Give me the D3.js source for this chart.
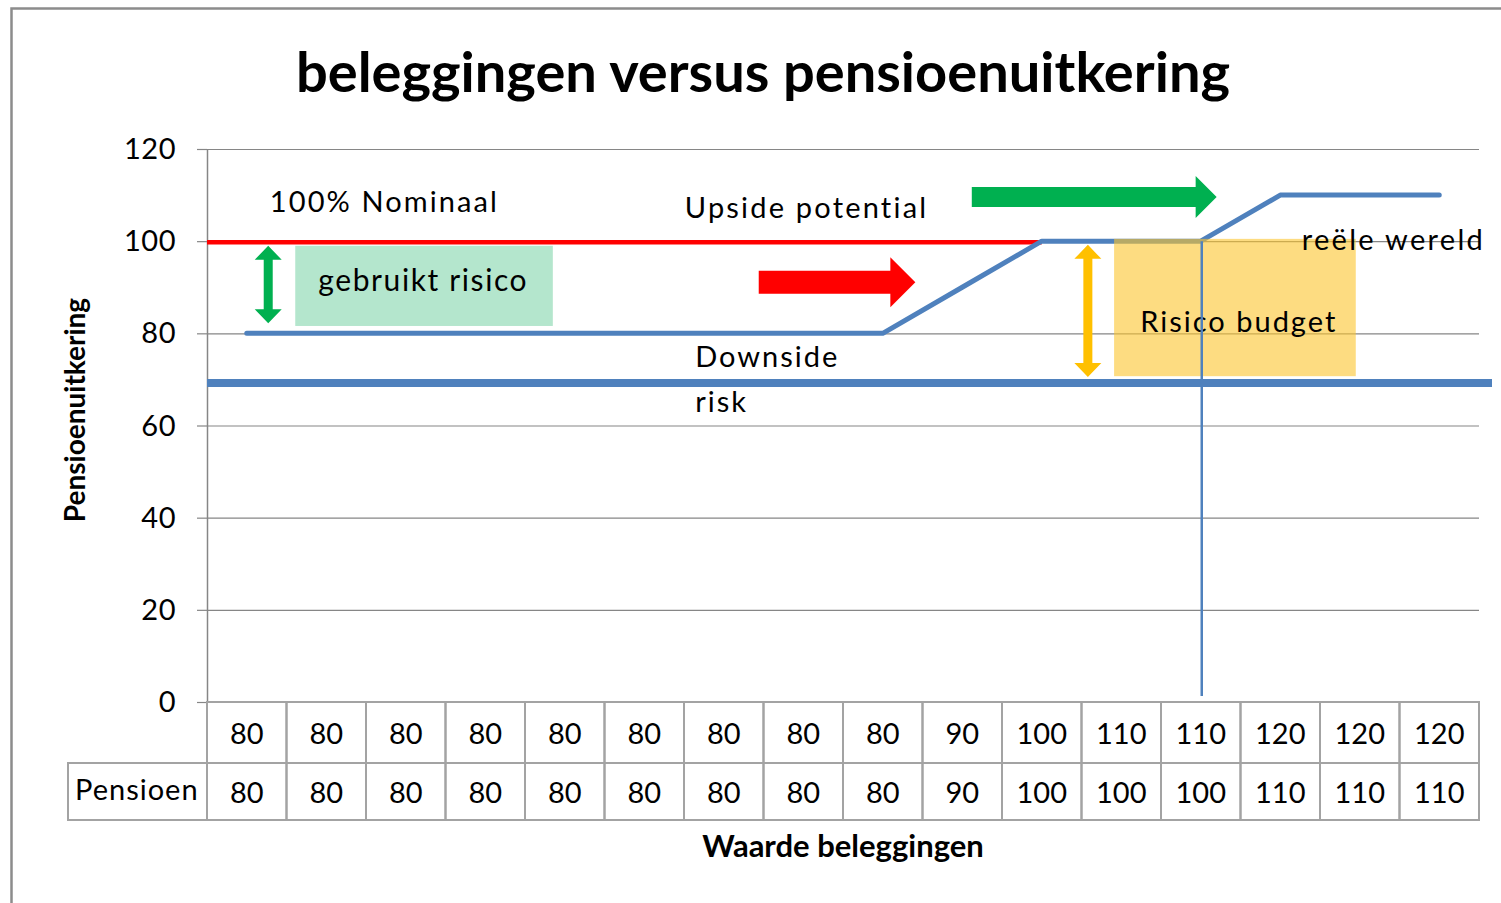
<!DOCTYPE html>
<html>
<head>
<meta charset="utf-8">
<script src="https://cdn.jsdelivr.net/npm/d3@7/dist/d3.min.js"></script>
<style>
  body { margin: 0; background: #fff; }
  text { font-family: Lato, "Open Sans", sans-serif; fill: #000; }
</style>
</head>
<body>
<div id="chart"></div>
<script>
// data
var waarde   = [80, 80, 80, 80, 80, 80, 80, 80, 80, 90, 100, 110, 110, 120, 120, 120];
var pensioen = [80, 80, 80, 80, 80, 80, 80, 80, 80, 90, 100, 100, 100, 110, 110, 110];
var yTicks = [0, 20, 40, 60, 80, 100, 120];
var nominaal = 100;      // red line
var reeleWereld = 69.2;  // thick blue floor
var rowLabel = "Pensioen";

var W = 1501, H = 903;
var pLeft = 207, pRight = 1479, pTop = 149, pBottom = 702;
var rowH1 = 61, rowH2 = 57, headLeft = 68;

var svg = d3.select("#chart").append("svg")
    .attr("width", W)
    .attr("height", H);

// outer frame
svg.append("rect")
    .attr("x", 11.5).attr("y", 8.5)
    .attr("width", W + 20).attr("height", H + 20)
    .attr("fill", "none")
    .attr("stroke", "#8c8c8c")
    .attr("stroke-width", 2.5);

var x = d3.scaleBand().domain(d3.range(waarde.length)).range([pLeft, pRight]);
var xi = d3.scaleLinear().domain([0, waarde.length]).range([pLeft, pRight]); // fractional category position
var y = d3.scaleLinear().domain([0, 120]).range([pBottom, pTop]);

svg.append("text")
    .attr("x", 763).attr("y", 92)
    .attr("text-anchor", "middle")
    .style("font-size", "56px").style("font-weight", "bold")
    .text("beleggingen versus pensioenuitkering");

// gridlines
var grid = svg.append("g")
    .attr("transform", "translate(" + pLeft + ",0)")
    .call(d3.axisLeft(y).tickValues(yTicks).tickSize(-(pRight - pLeft)).tickFormat(""));
grid.select(".domain").remove();
grid.selectAll("line").attr("stroke", "#868686").attr("stroke-width", 1.2);

// y axis with labels
var gY = svg.append("g")
    .attr("transform", "translate(" + pLeft + ",0)")
    .call(d3.axisLeft(y).tickValues(yTicks).tickSize(10).tickPadding(21));
gY.select(".domain").attr("stroke", "#868686").attr("stroke-width", 1.5)
    .attr("d", "M0.5," + pTop + "V" + pBottom);
gY.selectAll("line").attr("stroke", "#868686").attr("stroke-width", 1.2);
gY.selectAll("text").style("font-size", "29px").style("font-family", "Lato")
    .style("letter-spacing", "0.5px").attr("dy", "0.33em").attr("fill", "#111");

svg.append("text")
    .attr("transform", "translate(85,410) rotate(-90)")
    .attr("text-anchor", "middle")
    .style("font-size", "28px").style("font-weight", "bold")
    .text("Pensioenuitkering");

// data table under the axis
var table = svg.append("g");
var tableStroke = "#a3a3a3";
table.selectAll(".c1").data(waarde).enter().append("rect")
    .attr("x", function (d, i) { return x(i); })
    .attr("y", pBottom)
    .attr("width", x.bandwidth()).attr("height", rowH1)
    .attr("fill", "none").attr("stroke", tableStroke).attr("stroke-width", 2);
table.selectAll(".c2").data(pensioen).enter().append("rect")
    .attr("x", function (d, i) { return x(i); })
    .attr("y", pBottom + rowH1)
    .attr("width", x.bandwidth()).attr("height", rowH2)
    .attr("fill", "none").attr("stroke", tableStroke).attr("stroke-width", 2);
table.append("rect")
    .attr("x", headLeft).attr("y", pBottom + rowH1)
    .attr("width", pLeft - headLeft).attr("height", rowH2)
    .attr("fill", "none").attr("stroke", tableStroke).attr("stroke-width", 2);
table.selectAll(".t1").data(waarde).enter().append("text")
    .attr("x", function (d, i) { return x(i) + x.bandwidth() / 2; })
    .attr("y", pBottom + 42)
    .attr("text-anchor", "middle")
    .style("font-size", "29px")
    .text(function (d) { return d; });
table.selectAll(".t2").data(pensioen).enter().append("text")
    .attr("x", function (d, i) { return x(i) + x.bandwidth() / 2; })
    .attr("y", pBottom + rowH1 + 40)
    .attr("text-anchor", "middle")
    .style("font-size", "29px")
    .text(function (d) { return d; });
table.append("text")
    .attr("x", 75).attr("y", pBottom + rowH1 + 37)
    .style("font-size", "29px").style("letter-spacing", "1px")
    .text(rowLabel);

svg.append("text")
    .attr("x", 843).attr("y", 857)
    .attr("text-anchor", "middle")
    .style("font-size", "31px").style("font-weight", "bold")
    .text("Waarde beleggingen");

// annotation shapes
function hArrow(x0, x1, cy, sh, hh, hl) {
    return [[x0, cy - sh], [x1 - hl, cy - sh], [x1 - hl, cy - hh], [x1, cy],
            [x1 - hl, cy + hh], [x1 - hl, cy + sh], [x0, cy + sh]];
}
function vDouble(cx, y0, y1, sw, hw, hl) {
    return [[cx, y0], [cx + hw, y0 + hl], [cx + sw, y0 + hl], [cx + sw, y1 - hl], [cx + hw, y1 - hl],
            [cx, y1], [cx - hw, y1 - hl], [cx - sw, y1 - hl], [cx - sw, y0 + hl], [cx - hw, y0 + hl]];
}
var poly = d3.line();
var blue = "#4f81bd";

// green box "gebruikt risico"
svg.append("rect")
    .attr("x", xi(1.11)).attr("y", y(99))
    .attr("width", xi(4.35) - xi(1.11)).attr("height", y(81.6) - y(99))
    .attr("fill", "#b4e6cd");

// red nominal line
svg.append("line")
    .attr("x1", pLeft).attr("x2", x(10) + x.bandwidth() / 2)
    .attr("y1", y(nominaal) + 1).attr("y2", y(nominaal) + 1)
    .attr("stroke", "#ff0000").attr("stroke-width", 4.5);

// thick real-world floor
svg.append("line")
    .attr("x1", pLeft).attr("x2", pRight + 13)
    .attr("y1", y(reeleWereld)).attr("y2", y(reeleWereld))
    .attr("stroke", blue).attr("stroke-width", 8);

// pension line
svg.append("path")
    .datum(pensioen)
    .attr("fill", "none")
    .attr("stroke", blue).attr("stroke-width", 5)
    .attr("stroke-linecap", "round").attr("stroke-linejoin", "round")
    .attr("d", d3.line()
        .x(function (d, i) { return x(i) + x.bandwidth() / 2; })
        .y(function (d) { return y(d); }));

// arrows
svg.append("path").attr("fill", "#00b050")
    .attr("d", poly(vDouble(xi(0.77), y(99), y(82.2), 4.5, 13.5, 14)) + "Z");
svg.append("path").attr("fill", "#ff0000")
    .attr("d", poly(hArrow(xi(6.94), xi(8.91), y(91.1), 11.5, 25, 25)) + "Z");
svg.append("path").attr("fill", "#00b050")
    .attr("d", poly(hArrow(xi(9.62), xi(12.7), y(109.6), 10, 21, 21)) + "Z");
svg.append("path").attr("fill", "#ffc000")
    .attr("d", poly(vDouble(xi(11.08), y(99.2), y(70.5), 4.5, 13.5, 14)) + "Z");

// orange box "Risico budget" (semi transparent)
svg.append("rect")
    .attr("x", xi(11.41)).attr("y", y(100.5))
    .attr("width", xi(14.45) - xi(11.41)).attr("height", y(70.7) - y(100.5))
    .attr("fill", "#fcc42d").attr("fill-opacity", 0.6);

// annotation texts
var notes = [
    { t: "100% Nominaal", i: 0.79, v: 106.3, s: 29, ls: 2.1 },
    { t: "gebruikt risico", i: 1.40, v: 89.2, s: 30, ls: 1.6 },
    { t: "Upside potential", i: 6.01, v: 105, s: 29, ls: 2.2 },
    { t: "Downside", i: 6.14, v: 72.7, s: 29, ls: 2 },
    { t: "risk", i: 6.14, v: 62.9, s: 29, ls: 2 },
    { t: "reële wereld", i: 13.77, v: 98.1, s: 29, ls: 2.3 },
    { t: "Risico budget", i: 11.74, v: 80.3, s: 29, ls: 2 }
];
svg.selectAll(".note").data(notes).enter().append("text")
    .attr("x", function (d) { return xi(d.i); })
    .attr("y", function (d) { return y(d.v); })
    .style("font-size", function (d) { return d.s + "px"; })
    .style("letter-spacing", function (d) { return d.ls + "px"; })
    .text(function (d) { return d.t; });

// vertical marker at the 12th category
svg.append("line")
    .attr("x1", x(12) + x.bandwidth() / 2 + 1).attr("x2", x(12) + x.bandwidth() / 2 + 1)
    .attr("y1", y(nominaal)).attr("y2", y(1.3))
    .attr("stroke", blue).attr("stroke-width", 2.5);
</script>
</body>
</html>
